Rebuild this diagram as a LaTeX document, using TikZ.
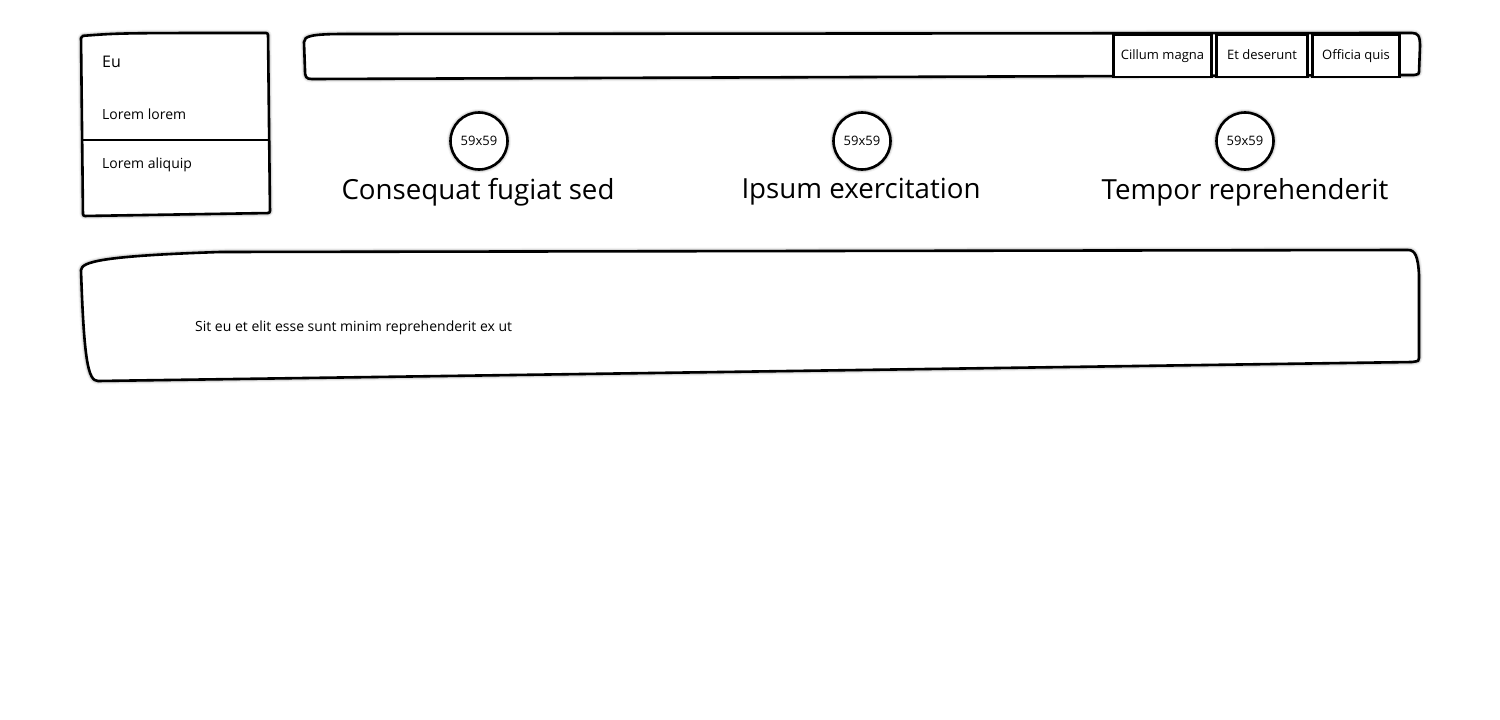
\documentclass[tikz,border=0pt]{standalone}
\usepackage{fontspec}
\setmainfont{Open Sans}
\usetikzlibrary{positioning, shadows.blur}

\begin{document}
\begin{tikzpicture}[x=1pt, y=-1pt,
		sketch/.style={draw=black, line width=2.6pt, fill=white, line join=round,
			blur shadow={shadow xshift=0pt, shadow yshift=0pt, shadow blur radius=3.5pt, shadow opacity=75}},
		tab/.style={draw=black, line width=2.6pt, fill=white, minimum height=42pt, inner sep=0pt, outer sep=0pt,
			text height=10pt, text depth=3pt, font=\fontsize{13}{15}\selectfont},
		icon/.style={circle, sketch, minimum size=57pt, inner sep=0pt, font=\fontsize{13}{15}\selectfont},
		item/.style={anchor=west, inner sep=0pt, font=\fontsize{14}{16}\selectfont},
		heading/.style={font=\fontsize{27.7}{32}\selectfont}]
		\useasboundingbox (0, 0) rectangle (1500, 720);
		\draw[sketch, rounded corners=2pt] (81, 36) .. controls (120, 33) .. (268, 33) -- (270, 213) -- (83, 216) -- cycle;
		\draw[line width=2.6pt] (81, 140) -- (270, 140);
		\node[item, font=\fontsize{16}{18}\selectfont] (eu) at (102, 62) {Eu};
		\node[item] (lorem) at (102, 114) {Lorem lorem};
		\node[item] (aliquip) at (102, 165) {Lorem aliquip};
		\draw[sketch] (304, 42) .. controls (304, 36) and (312, 34) .. (345, 34) -- (1412, 33) .. controls (1418, 33) and (1420, 36) .. (1420, 46) -- (1419, 72) .. controls (1419, 74) .. (1414, 75) -- (312, 79) .. controls (306, 79) and (305, 77) .. (305, 70) -- cycle;
		\node[tab, minimum width=98.5pt] (cillum) at (1162.5, 56) {Cillum magna};
		\node[tab, minimum width=91.5pt, right=4.5pt of cillum] (deserunt) {Et deserunt};
		\node[tab, minimum width=87.5pt, right=4.5pt of deserunt] (officia) {Officia quis};
		\node[icon] (iconA) at (479, 141) {59x59};
		\node[heading] (consequat) at (478, 192) {Consequat fugiat sed};
		\node[icon] (iconB) at (862, 141) {59x59};
		\node[heading] (ipsum) at (861, 192) {Ipsum exercitation};
		\node[icon] (iconC) at (1245, 141) {59x59};
		\node[heading] (tempor) at (1245, 192) {Tempor reprehenderit};
		\draw[sketch] (81, 270) .. controls (82, 262) and (100, 256) .. (220, 252) -- (1408, 250) .. controls (1415, 250) and (1418, 256) .. (1419, 275) -- (1419, 358) .. controls (1419, 361) .. (1412, 362) -- (98, 381) .. controls (88, 381) and (84, 360) .. (81, 270) -- cycle;
		\node[item] (sit) at (195, 328) {Sit eu et elit esse sunt minim reprehenderit ex ut};
\end{tikzpicture}
\end{document}
